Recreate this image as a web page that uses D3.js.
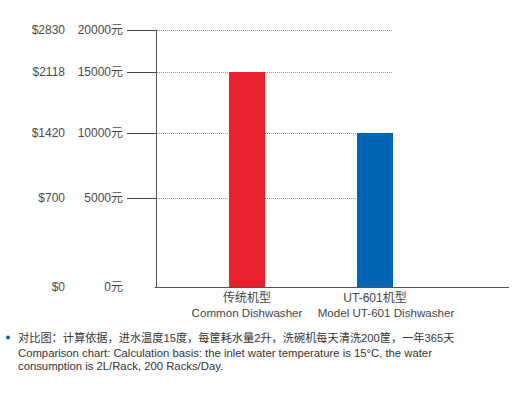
<!DOCTYPE html>
<html><head><meta charset="utf-8">
<script src="https://cdn.jsdelivr.net/npm/d3@7"></script>
<style>
body{margin:0;background:#fff;}
svg{display:block;font-family:"Liberation Sans",Arial,"Noto Sans CJK SC",sans-serif;}
</style></head>
<body><svg id="c" width="530" height="395"></svg>
<script>
const categories = ["传统机型", "UT-601机型"];
const categoriesEn = ["Common Dishwasher", "Model UT-601 Dishwasher"];
const values = [15000, 10000];
const tickValues = [0, 5000, 10000, 15000, 20000];
const yuanLabels = ["0元", "5000元", "10000元", "15000元", "20000元"];
const dollarLabels = ["$0", "$700", "$1420", "$2118", "$2830"];
const colors = ["#e8202b", "#0066b3"];
const noteLines = [
  "对比图：计算依据，进水温度15度，每筐耗水量2升，洗碗机每天清洗200筐，一年365天",
  "Comparison chart: Calculation basis: the inlet water temperature is 15°C, the water",
  "consumption is 2L/Rack, 200 Racks/Day."
];

const svg = d3.select("#c");
const axisX = 156.5;
const y = d3.scaleLinear().domain(tickValues).range([286.5, 197.5, 133, 71.5, 29.5]);
const x = d3.scalePoint().domain(categories).range([247, 375]);
const barW = 36;
const gridEnd = 393;

// gridlines
svg.append("g").selectAll("line").data(tickValues.slice(1)).join("line")
  .attr("x1", axisX + 0.5).attr("x2", gridEnd)
  .attr("y1", d => Math.round(y(d)) + 0.5).attr("y2", d => Math.round(y(d)) + 0.5)
  .attr("stroke", "#999").attr("stroke-width", 1).attr("stroke-dasharray", "1,1");

// bars
svg.append("g").selectAll("rect").data(values).join("rect")
  .attr("x", (d, i) => x(categories[i]) - barW / 2)
  .attr("width", barW)
  .attr("y", d => Math.round(y(d)))
  .attr("height", d => Math.round(y(0)) - Math.round(y(d)))
  .attr("fill", (d, i) => colors[i]);

// tick marks
svg.append("g").selectAll("line").data(tickValues.slice(1)).join("line")
  .attr("x1", 127).attr("x2", axisX)
  .attr("y1", d => Math.round(y(d)) + 0.5).attr("y2", d => Math.round(y(d)) + 0.5)
  .attr("stroke", "#444").attr("stroke-width", 1);

// axes
svg.append("line").attr("x1", axisX).attr("x2", axisX)
  .attr("y1", Math.round(y(20000))).attr("y2", Math.round(y(0)) + 0.5)
  .attr("stroke", "#555").attr("stroke-width", 1);
svg.append("line").attr("x1", axisX - 2).attr("x2", 509)
  .attr("y1", Math.round(y(0)) + 0.5).attr("y2", Math.round(y(0)) + 0.5)
  .attr("stroke", "#555").attr("stroke-width", 1);

// tick labels
const tl = svg.append("g").attr("font-size", 12).attr("fill", "#4a4a4a");
tl.selectAll("text.yuan").data(tickValues).join("text").attr("class", "yuan")
  .attr("x", 123).attr("y", d => y(d)).attr("dy", "0.35em")
  .attr("text-anchor", "end").text((d, i) => yuanLabels[i]);
tl.selectAll("text.usd").data(tickValues).join("text").attr("class", "usd")
  .attr("x", 65).attr("y", d => y(d)).attr("dy", "0.35em")
  .attr("text-anchor", "end").text((d, i) => dollarLabels[i]);

// category labels
const cl = svg.append("g").attr("fill", "#444").attr("text-anchor", "middle");
cl.selectAll("text.zh").data(categories).join("text").attr("class", "zh")
  .attr("x", d => x(d)).attr("y", 302).attr("font-size", 12).text(d => d);
cl.selectAll("text.en").data(categoriesEn).join("text").attr("class", "en")
  .attr("x", (d, i) => x(categories[i]) + (i === 1 ? 11 : 0)).attr("y", 317)
  .attr("font-size", 11.6).text(d => d);

// note
svg.append("circle").attr("cx", 8).attr("cy", 337.5).attr("r", 2).attr("fill", "#0066b3");
const nl = svg.append("g").attr("fill", "#333");
nl.selectAll("text").data(noteLines).join("text")
  .attr("x", 18).attr("y", (d, i) => [341.5, 357, 370][i])
  .attr("font-size", (d, i) => i === 0 ? 11.2 : 11.3)
  .text(d => d);
</script></body></html>
